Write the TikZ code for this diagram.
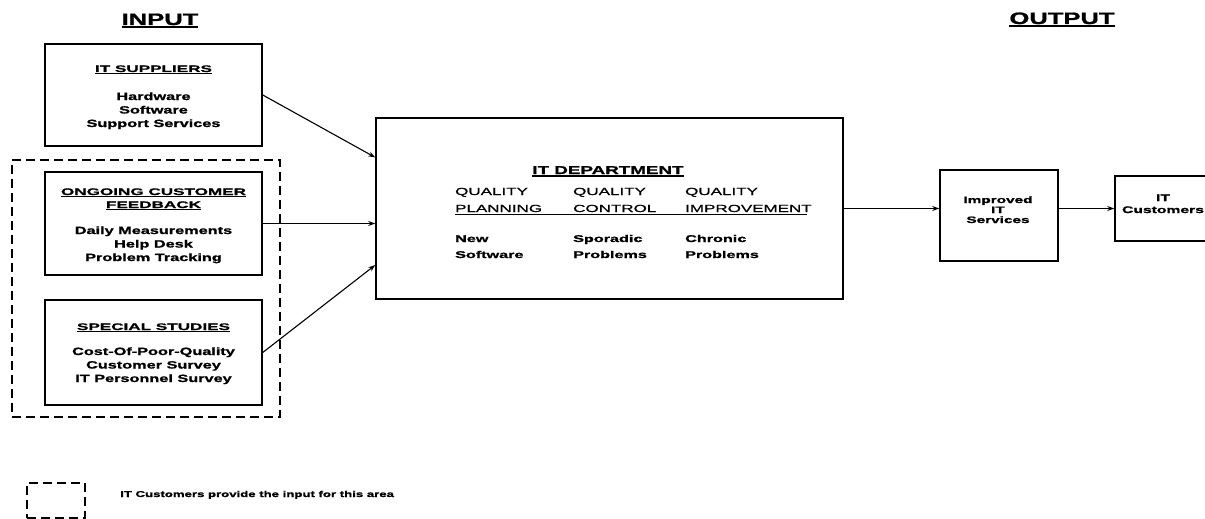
\documentclass[tikz,border=0pt]{standalone}
\usepackage{fontspec}
\setmainfont{Liberation Sans}
\newfontfamily\fA[FakeStretch=1.55, BoldFeatures={FakeBold=1.3}]{Liberation Sans}
\newfontfamily\fB[FakeStretch=1.8, BoldFeatures={FakeBold=1.1}]{Liberation Sans}
\newfontfamily\fC[FakeStretch=1.65, BoldFeatures={FakeBold=1.3}]{Liberation Sans}
\newfontfamily\fD[FakeStretch=1.65, FakeBold=0.7]{Liberation Sans}
\newcommand\myul[2][1.1pt]{\vtop{\hbox{#2}\kern1.2pt\hrule height #1}}
\usetikzlibrary{arrows.meta,calc}
\tikzset{
  box/.style={draw, line width=1.5pt, inner sep=0pt},
  dbox/.style={draw, line width=1.4pt, dash pattern=on 9pt off 5pt, inner sep=0pt},
  arr/.style={line width=1.1pt, -{Stealth[length=7pt,width=5pt]}},
  body/.style={font={\fA\bfseries\fontsize{10.5}{13.5}\selectfont}, align=center, inner sep=0pt, anchor=base},
  ttl/.style={font={\fB\bfseries\fontsize{9.5}{13}\selectfont}, align=center, inner sep=0pt, anchor=base},
  big/.style={font={\fA\bfseries\fontsize{16.5}{18}\selectfont}, inner sep=0pt, anchor=base},
  qhead/.style={font={\fD\fontsize{10.3}{17}\selectfont}, align=left, inner sep=0pt, anchor=base west},
  qbody/.style={font={\fC\bfseries\fontsize{9.8}{16}\selectfont}, align=left, inner sep=0pt, anchor=base west},
}
\begin{document}
\begin{tikzpicture}[x=1pt,y=-1pt]
\fill[white] (0,0) rectangle (1205,519);
\clip (0,0) rectangle (1205,519);

% titles
\node[big] (inp) at (160,25) {\myul[1.5pt]{INPUT}};
\node[big] (outp) at (1062,24) {\myul[1.5pt]{OUTPUT}};

% input boxes
\node[box, minimum width=217pt, minimum height=102pt] (sup) at (153.5,95) {};
\node[box, minimum width=217pt, minimum height=103pt] (ocf) at (153.5,223.5) {};
\node[box, minimum width=217pt, minimum height=105pt] (spe) at (153.5,352.5) {};
\node[dbox, minimum width=268pt, minimum height=257pt] (custarea) at (146,288.5) {};

% multi-line nodes are anchored at the baseline of their last line
\node[ttl] (supT) at (153.5,72) {\myul{IT SUPPLIERS}};
\node[body] (supB) at (153.5,127) {Hardware\\Software\\Support Services};
\node[ttl] (ocfT) at (153.5,208) {\myul{ONGOING CUSTOMER}\\\myul{FEEDBACK}};
\node[body] (ocfB) at (153.5,261) {Daily Measurements\\Help Desk\\Problem Tracking};
\node[ttl] (speT) at (153.5,330) {\myul{SPECIAL STUDIES}};
\node[body] (speB) at (153.5,382) {Cost-Of-Poor-Quality\\Customer Survey\\IT Personnel Survey};

% IT department
\node[box, minimum width=467pt, minimum height=181pt] (itd) at (609.5,208.5) {};
\node[font={\fC\bfseries\fontsize{11.4}{13}\selectfont}, inner sep=0pt, anchor=base] (itdT) at (608,174) {\myul[1.6pt]{IT DEPARTMENT}};
\node[qhead] (q1) at (455,212) {QUALITY\\PLANNING};
\node[qhead] (q2) at (573,212) {QUALITY\\CONTROL};
\node[qhead] (q3) at (685,212) {QUALITY\\IMPROVEMENT};
\coordinate (ulA) at (455,214.5);
\coordinate (ulB) at (807,214.5);
\draw[line width=1.2pt] (ulA) -- (ulB);
\node[qbody] (b1) at (455,258) {New\\Software};
\node[qbody] (b2) at (573,258) {Sporadic\\Problems};
\node[qbody] (b3) at (685,258) {Chronic\\Problems};

% output boxes
\node[box, minimum width=118pt, minimum height=91pt] (imp) at (999,215.5) {};
\node[font={\fC\bfseries\fontsize{9.3}{10}\selectfont}, align=center, inner sep=0pt, anchor=base] (impT) at (998,223) {Improved\\IT\\Services};
\node[box, minimum width=100pt, minimum height=65pt] (itc) at (1165,208.5) {};
\node[font={\fC\bfseries\fontsize{9.5}{12}\selectfont}, align=center, inner sep=0pt, anchor=base] (itcT) at (1163,213) {IT\\Customers};

% connectors
\draw[arr] (sup.east) -- ($(itd.north west)!0.22!(itd.south west)$);
\draw[arr] (ocf.east) -- (ocf.east -| itd.west);
\draw[arr] (spe.east) -- ($(itd.north west)!0.81!(itd.south west)$);
\draw[arr] (itd.east) -- (itd.east -| imp.west);
\draw[arr] (imp.east |- itc.west) -- (itc.west);

% legend
\node[dbox, minimum width=58pt, minimum height=35pt] (leg) at (56,500.5) {};
\node[font={\fA\bfseries\fontsize{8.5}{10}\selectfont}, inner sep=0pt, anchor=base west] (legT) at (120,497) {IT Customers provide the input for this area};
\end{tikzpicture}
\end{document}
